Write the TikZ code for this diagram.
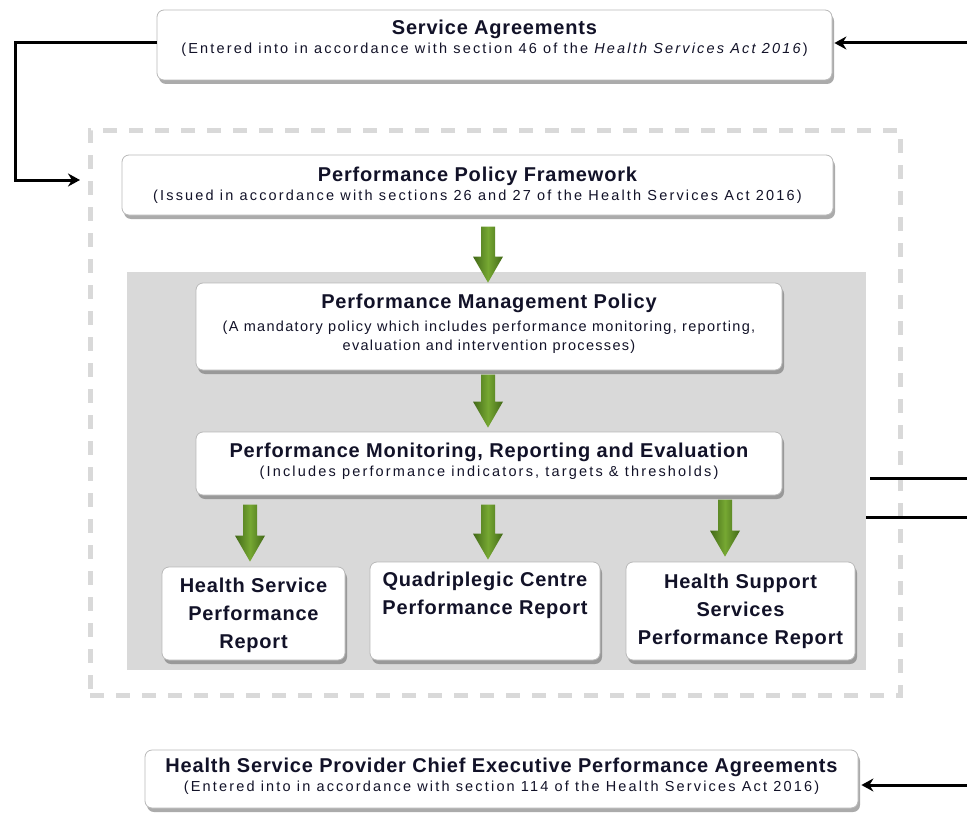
\documentclass[tikz,border=0pt]{standalone}
\usepackage{fontspec}
\setmainfont{Liberation Sans}
\newfontfamily\titlefam[LetterSpace=4]{Liberation Sans}
\newfontfamily\subfam[LetterSpace=15]{Liberation Sans}
\newfontfamily\subtightfam[LetterSpace=9]{Liberation Sans}
\usetikzlibrary{shadows,calc,arrows.meta}
\definecolor{panelgray}{RGB}{217,217,217}
\definecolor{dashgray}{RGB}{217,217,217}
\definecolor{gdark}{RGB}{66,104,24}
\definecolor{glight}{RGB}{118,168,50}
\definecolor{txt}{RGB}{18,18,40}
\newcommand{\boxttl}{\titlefam\fontsize{20}{24}\selectfont\bfseries}
\newcommand{\boxsub}{\subfam\fontsize{14.5}{19}\selectfont\mdseries}
\newcommand{\boxsubtight}{\subtightfam\fontsize{14.5}{19}\selectfont\mdseries}
\newcommand{\reptxt}{\titlefam\fontsize{20}{28}\selectfont\bfseries}
\newcommand{\garrow}[2]{%
  \shade[left color=gdark, right color=gdark, middle color=glight]
  let \p1=#1, \p2=#2 in
  (\x1-7pt,\y1) -- (\x1+7pt,\y1) -- (\x1+7pt,\y2+26pt) -- (\x1+15pt,\y2+26pt)
  -- (\x1,\y2) -- (\x1-15pt,\y2+26pt) -- (\x1-7pt,\y2+26pt) -- cycle;}
\begin{document}
\begin{tikzpicture}[x=1pt,y=-1pt,
  box/.style={draw=gray!55, line width=0.8pt, rounded corners=7pt, fill=white,
    align=center, inner sep=2pt, text=txt,
    drop shadow={shadow xshift=2pt, shadow yshift=-4pt, fill=black!60, opacity=0.55}},
  twoline/.style={box, font=\boxsub},
  report/.style={box, font=\reptxt},
  conn/.style={line width=3pt, draw=black, line join=miter},
  tipped/.style={-{Stealth[length=12pt,width=13pt]}}]
\useasboundingbox (0,0) rectangle (967,816);

% dashed frame and grey panel
\node[draw=dashgray, line width=5pt, dash pattern=on 14pt off 12pt,
  minimum width=810pt, minimum height=565pt, inner sep=0pt] (frame) at (495,412.5) {};
\node[fill=panelgray, minimum width=739pt, minimum height=398pt, inner sep=0pt] (panel) at (496.5,471) {};

% boxes
\node[twoline, minimum width=675pt, minimum height=70pt, text depth=16pt] (sa) at (494.5,45)
  {{\boxttl Service Agreements}\\(Entered into in accordance with section 46 of the \textit{Health Services Act 2016})};
\node[twoline, minimum width=711pt, minimum height=60pt] (ppf) at (477.5,185)
  {{\boxttl Performance Policy Framework}\\(Issued in accordance with sections 26 and 27 of the Health Services Act 2016)};
\node[box, font=\boxsubtight, minimum width=586pt, minimum height=87pt, text depth=8pt] (pmp) at (489,326.5)
  {{\boxttl Performance Management Policy}\\[4pt](A mandatory policy which includes performance monitoring, reporting,\\evaluation and intervention processes)};
\node[twoline, minimum width=586pt, minimum height=63pt, text depth=8pt] (pmre) at (489,463.5)
  {{\boxttl Performance Monitoring, Reporting and Evaluation}\\(Includes performance indicators, targets \& thresholds)};
\node[report, minimum width=183pt, minimum height=93pt, text depth=0pt] (rep1) at (253.5,613.5)
  {Health Service\\Performance\\Report};
\node[report, minimum width=230pt, minimum height=98pt] (rep2) at (485,611)
  {Quadriplegic Centre\\Performance Report\\\strut};
\node[report, minimum width=229pt, minimum height=98pt] (rep3) at (740.5,611)
  {Health Support\\Services\\Performance Report};
\node[twoline, minimum width=713pt, minimum height=58pt, text depth=8pt] (hsp) at (501.5,779)
  {{\boxttl Health Service Provider Chief Executive Performance Agreements}\\(Entered into in accordance with section 114 of the Health Services Act 2016)};

% green arrows
\garrow{($(pmp.north)+(-1,-56)$)}{($(pmp.north)+(-1,0)$)}
\garrow{($(pmre.north)+(-1,-57)$)}{($(pmre.north)+(-1,-4)$)}
\garrow{($(rep1.north)+(-3.5,-62)$)}{($(rep1.north)+(-3.5,-5)$)}
\garrow{($(rep2.north)+(3,-57)$)}{($(rep2.north)+(3,-2)$)}
\garrow{($(rep3.north)+(-15.5,-62)$)}{($(rep3.north)+(-15.5,-5)$)}

% black connectors
\coordinate (ppfin) at (80,180);
\coordinate (sain) at (967,43);
\coordinate (hspin) at (967,785);
\coordinate (r1a) at (870,478);
\coordinate (r1b) at (967,478);
\coordinate (r2a) at (866,517);
\coordinate (r2b) at (967,517);
\draw[conn, tipped] ([yshift=2pt]sa.west) -| (15,180) -- (ppfin);
\draw[conn, tipped] (sain) -- ([xshift=2pt,yshift=2pt]sa.east);
\draw[conn, tipped] (hspin) -- ([xshift=3pt,yshift=-6pt]hsp.east);
\draw[conn] (r1a) -- (r1b);
\draw[conn] (r2a) -- (r2b);
\end{tikzpicture}
\end{document}
